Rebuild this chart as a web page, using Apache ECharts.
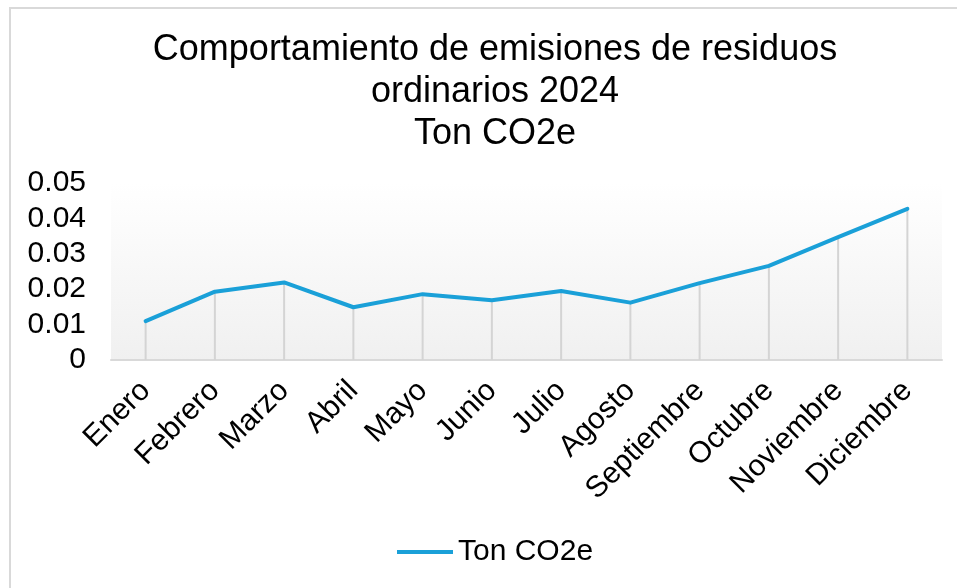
<!DOCTYPE html>
<html>
<head>
<meta charset="utf-8">
<script src="https://cdn.jsdelivr.net/npm/echarts@6/dist/echarts.min.js"></script>
<style>
    html, body { margin: 0; padding: 0; background: #fff; }
    #main { width: 957px; height: 588px; }
</style>
</head>
<body>
<div id="main"></div>
<script>
    let months = ['Enero', 'Febrero', 'Marzo', 'Abril', 'Mayo', 'Junio', 'Julio', 'Agosto',
        'Septiembre', 'Octubre', 'Noviembre', 'Diciembre'];
    let tonCO2e = [0.0110, 0.0193, 0.0219, 0.0149, 0.0186, 0.0169, 0.0195, 0.0162,
        0.0217, 0.0266, 0.0347, 0.0427];
    let yTicks = [0, 0.01, 0.02, 0.03, 0.04, 0.05];
    let seriesName = 'Ton CO2e';

    let font = '"Liberation Sans", Arial, sans-serif';
    let chart = echarts.init(document.getElementById('main'));
    let option = {
        animation: false,
        textStyle: { fontFamily: font, color: '#000' },
        graphic: [{
            type: 'rect',
            shape: { x: 10, y: 8, width: 960, height: 600 },
            style: { fill: 'none', stroke: '#d9d9d9', lineWidth: 2 },
            silent: true
        }],
        title: {
            text: 'Comportamiento de emisiones de residuos\nordinarios 2024\nTon CO2e',
            left: 490,
            top: 24,
            textAlign: 'center',
            textStyle: {
                fontFamily: font,
                fontSize: 36,
                fontWeight: 'normal',
                lineHeight: 42,
                color: '#000'
            }
        },
        legend: {
            data: [seriesName],
            bottom: 16,
            left: 392,
            icon: 'rect',
            itemWidth: 56,
            itemHeight: 4,
            itemGap: 6,
            textStyle: { fontFamily: font, fontSize: 30, color: '#000' }
        },
        grid: {
            left: 111,
            right: 15,
            top: 183,
            height: 177,
            show: true,
            borderWidth: 0,
            backgroundColor: {
                type: 'linear', x: 0, y: 0, x2: 0, y2: 1,
                colorStops: [
                    { offset: 0, color: '#ffffff' },
                    { offset: 1, color: '#f0f0f0' }
                ]
            }
        },
        xAxis: {
            type: 'category',
            data: months,
            boundaryGap: true,
            axisLine: { lineStyle: { color: '#d9d9d9', width: 2 } },
            axisTick: { show: false },
            axisLabel: {
                rotate: 45,
                interval: 0,
                margin: 26,
                fontFamily: font,
                fontSize: 30,
                color: '#000'
            }
        },
        yAxis: {
            type: 'value',
            min: 0,
            max: yTicks[yTicks.length - 1],
            interval: 0.01,
            axisLine: { show: false },
            axisTick: { show: false },
            splitLine: { show: false },
            axisLabel: {
                margin: 25,
                fontFamily: font,
                fontSize: 30,
                color: '#000',
                formatter: function (val) {
                    return yTicks.indexOf(Math.round(val * 100) / 100) >= 0 ? String(Math.round(val * 100) / 100) : '';
                }
            }
        },
        series: [
            {
                // drop lines from each point down to the axis
                name: 'drop',
                type: 'bar',
                data: tonCO2e,
                barWidth: 2,
                silent: true,
                itemStyle: { color: '#d4d4d4' },
                z: 1
            },
            {
                name: seriesName,
                type: 'line',
                data: tonCO2e,
                showSymbol: false,
                symbol: 'none',
                color: '#1aa0d8',
                lineStyle: { width: 4, color: '#1aa0d8', cap: 'round', join: 'round' },
                z: 3
            }
        ]
    };
    chart.setOption(option);
</script>
</body>
</html>
